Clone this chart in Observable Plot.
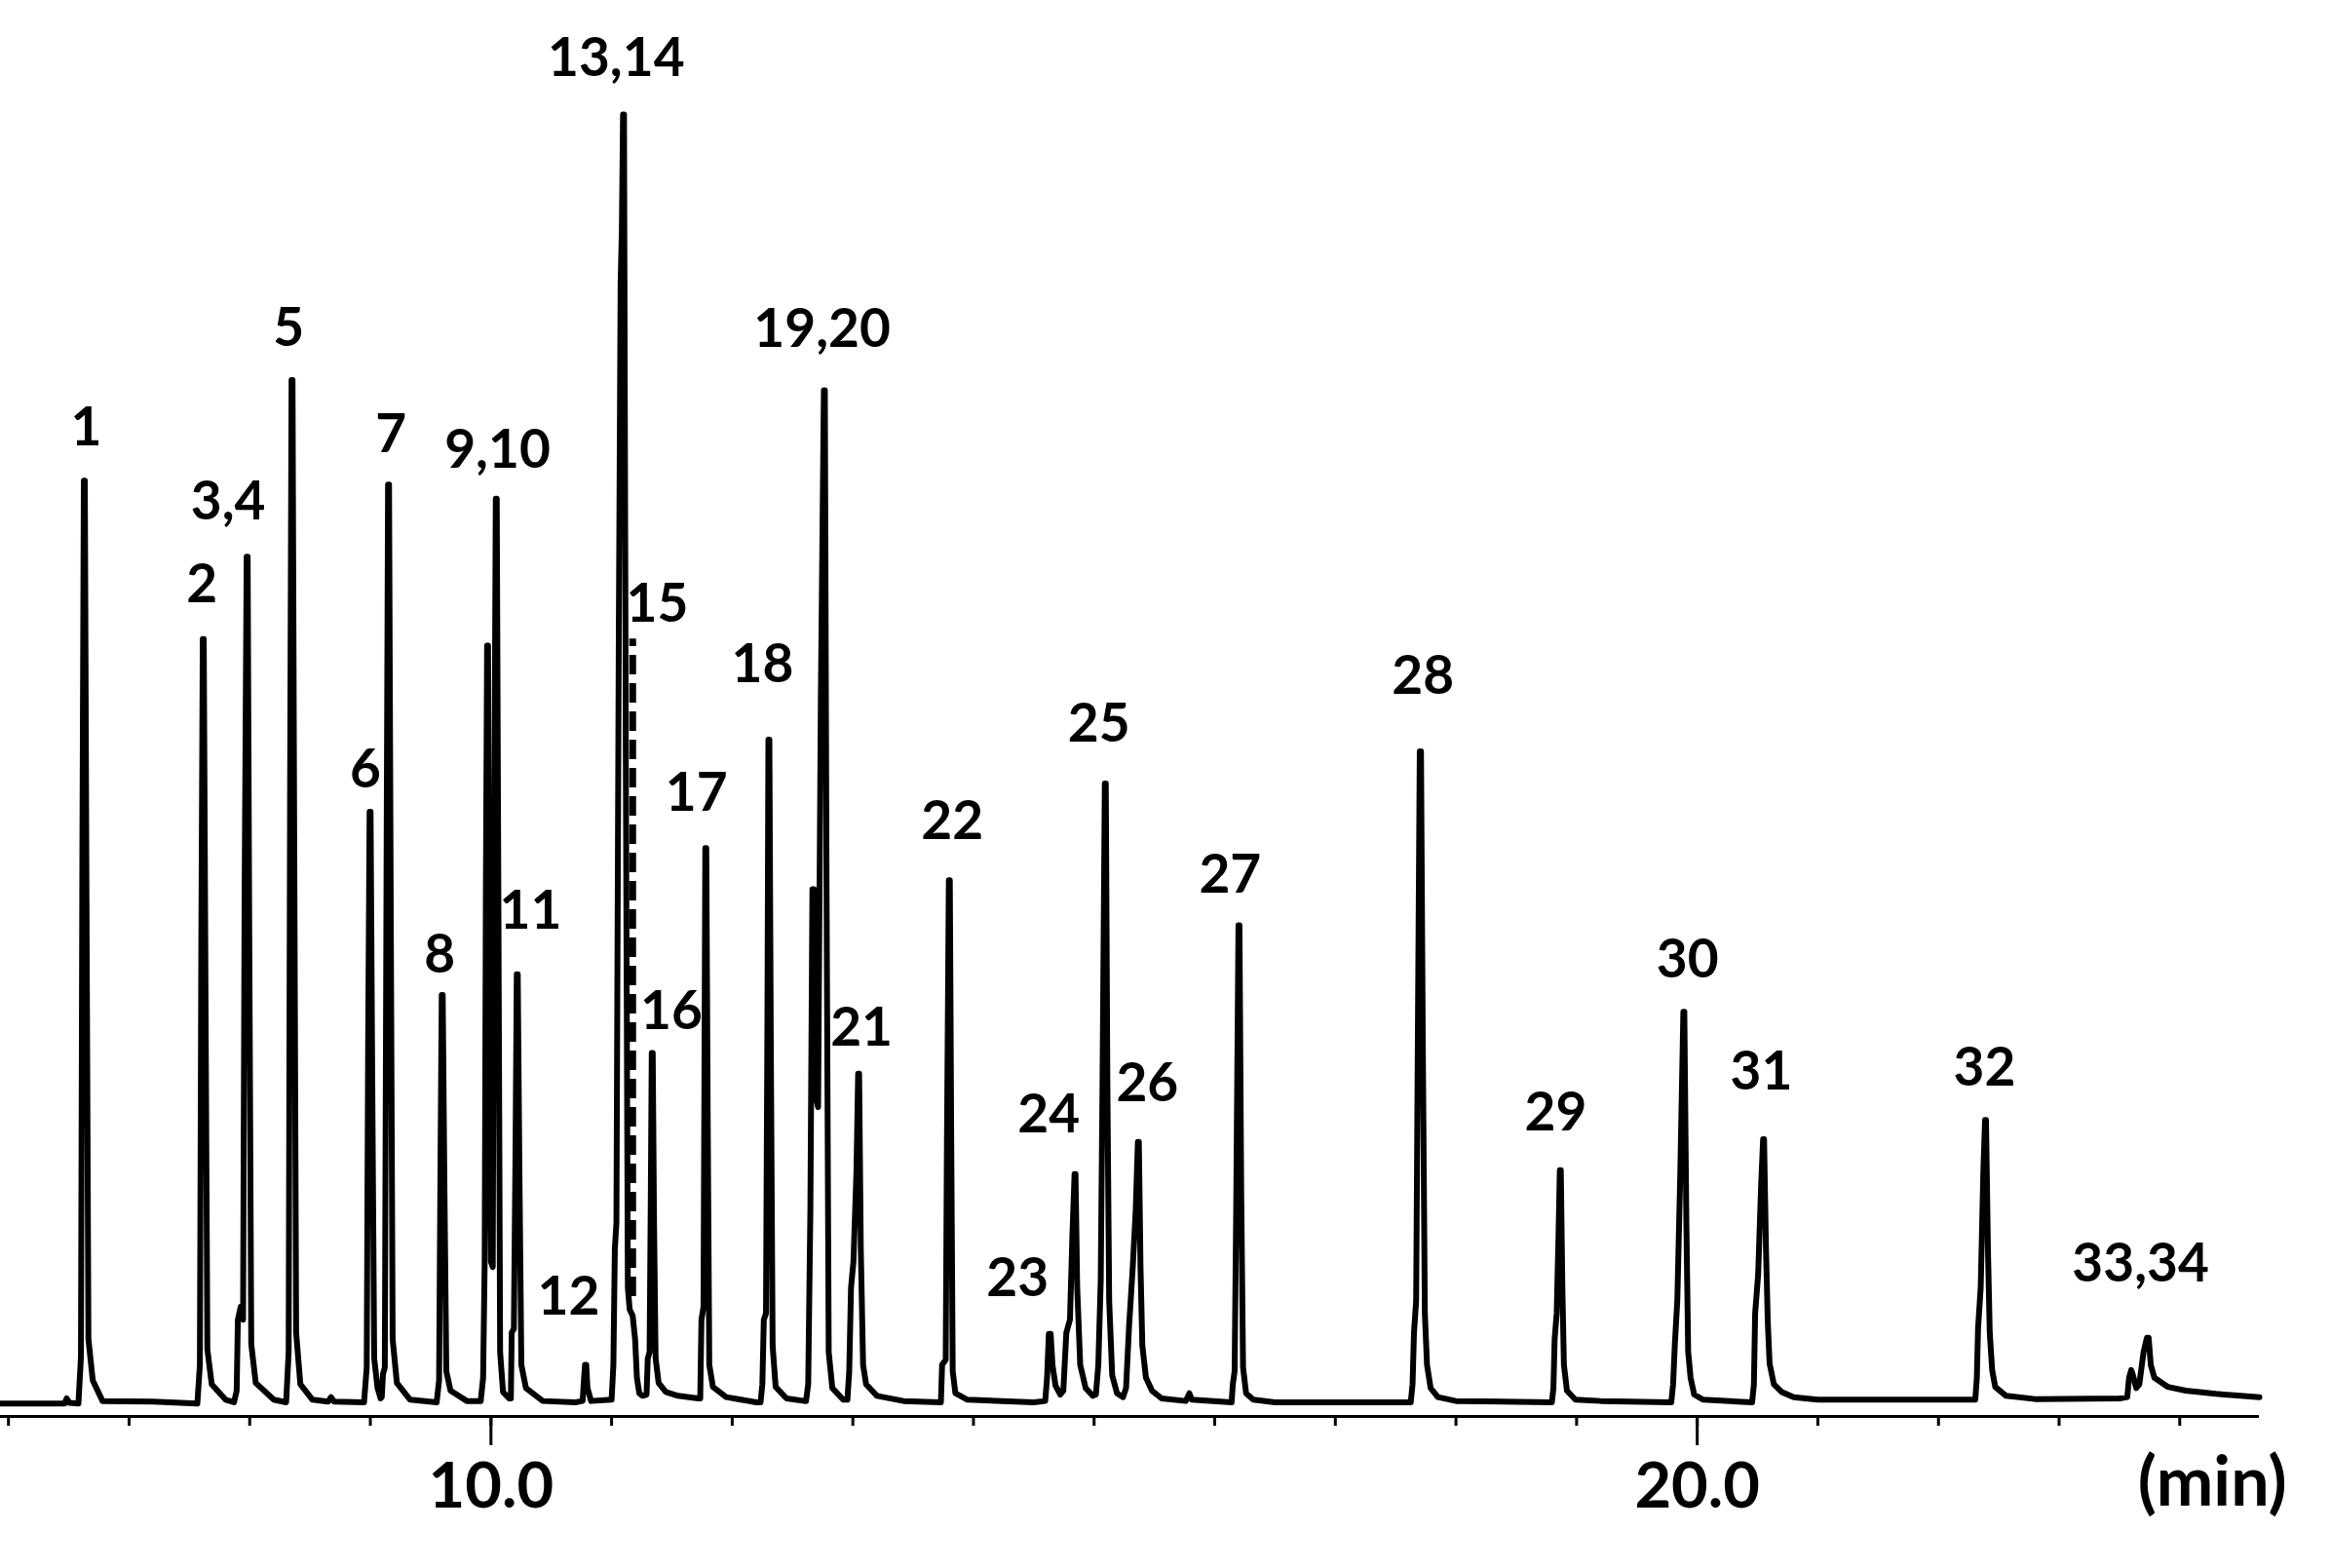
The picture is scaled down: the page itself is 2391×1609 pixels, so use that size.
<!DOCTYPE html>
<html><head><meta charset="utf-8">
<script src="https://cdn.jsdelivr.net/npm/d3@7"></script>
<script src="https://cdn.jsdelivr.net/npm/@observablehq/plot@0.6"></script>
<style>html,body{margin:0;padding:0;background:#fff;} svg{display:block;overflow:visible}</style>
</head><body><div id="chart"></div>
<script>
// Chromatogram trace vertices: [time (min), signal]
const trace = [
[5.934,0.0],[6.40,0.0],
[6.465,0.0],[6.483,0.4],[6.505,0.05],
[6.580,0.0],[6.601,3.6],[6.613,43],[6.625,71.6],[6.633,71.6],[6.647,39],[6.663,5.0],[6.699,1.8],[6.78,0.2],
[7.20,0.15],
[7.566,0.0],[7.587,3.0],[7.599,36],[7.611,59.3],[7.619,59.3],[7.633,33],[7.649,4.2],[7.685,1.5],[7.80,0.3],
[7.870,0.1],[7.892,1.0],[7.902,6.5],[7.925,7.5],[7.945,6.5],[7.958,40],[7.975,65.7],[7.983,65.7],[7.997,35],[8.013,4.6],[8.05,1.6],[8.20,0.3],
[8.302,0.1],[8.323,4.0],[8.335,48],[8.347,79.4],[8.355,79.4],[8.369,44],[8.385,5.5],[8.42,1.5],[8.52,0.3],
[8.65,0.15],[8.674,0.5],[8.70,0.15],
[8.948,0.1],[8.970,2.8],[8.982,28],[8.994,45.9],[9.002,45.9],[9.016,25],[9.032,3.5],[9.060,1.2],[9.085,0.4],
[9.095,0.5],[9.105,2.3],[9.120,2.8],[9.135,43],[9.147,71.3],[9.155,71.3],[9.169,39],[9.185,5.0],[9.22,1.6],[9.33,0.3],
[9.550,0.1],[9.570,1.8],[9.582,19],[9.592,31.7],[9.600,31.7],[9.614,17],[9.630,2.5],[9.665,1.0],[9.80,0.2],
[9.915,0.2],[9.935,2.0],[9.948,11],[9.958,40],[9.968,58.8],[9.976,58.8],[9.988,25],[10.000,11.0],[10.015,10.6],[10.025,40],[10.040,70.2],[10.048,70.2],[10.062,38],[10.076,4],[10.10,0.9],[10.15,0.4],
[10.165,0.4],[10.172,5.5],[10.190,5.8],[10.204,20],[10.214,33.3],[10.222,33.3],[10.236,18],[10.252,3],[10.29,1.2],[10.43,0.2],
[10.70,0.1],[10.760,0.2],[10.772,2.0],[10.780,3.0],[10.790,3.0],[10.800,1.2],[10.83,0.2],
[11.000,0.3],[11.015,3],[11.027,12],[11.040,14],[11.060,60],[11.075,87],[11.085,91],[11.095,100],[11.103,100],[11.118,50],[11.135,9],[11.150,7.3],[11.175,6.8],[11.195,5.0],[11.210,2.0],[11.230,0.8],[11.255,0.6],
[11.290,0.7],[11.300,3.5],[11.315,4.0],[11.325,16],[11.333,27.2],[11.341,27.2],[11.352,14],[11.365,3.5],[11.39,1.6],[11.45,0.9],[11.55,0.6],[11.72,0.4],
[11.735,0.4],[11.745,6.5],[11.762,7.5],[11.770,26],[11.777,43.1],[11.785,43.1],[11.797,22],[11.810,3],[11.84,1.3],[11.95,0.5],[12.20,0.1],
[12.235,0.1],[12.250,1.5],[12.262,6.5],[12.280,7.0],[12.292,30],[12.300,51.5],[12.308,51.5],[12.320,28],[12.335,4.5],[12.36,1.3],[12.45,0.4],[12.60,0.2],
[12.612,0.2],[12.630,1.5],[12.648,15],[12.665,39.9],[12.678,39.9],[12.700,23.5],[12.712,23.0],[12.735,55],[12.760,78.6],[12.768,78.6],[12.782,40],[12.800,4],[12.83,1.2],[12.92,0.3],
[12.955,0.3],[12.970,2.5],[12.985,9],[13.005,11],[13.030,18],[13.044,25.6],[13.052,25.6],[13.066,12],[13.085,3.0],[13.11,1.5],[13.20,0.6],[13.42,0.2],
[13.730,0.1],[13.740,3.0],[13.770,3.4],[13.780,20],[13.796,40.6],[13.804,40.6],[13.816,20],[13.828,2.5],[13.85,0.8],[13.95,0.3],
[14.50,0.1],
[14.595,0.2],[14.610,2.0],[14.625,5.4],[14.640,5.4],[14.655,3.0],[14.680,1.4],[14.720,0.7],
[14.745,1.0],[14.770,5.5],[14.800,6.5],[14.820,13],[14.838,17.8],[14.846,17.8],[14.860,9],[14.885,3],[14.930,1.2],[14.990,0.6],
[15.015,0.7],[15.035,3],[15.055,9.5],[15.070,25],[15.089,48.1],[15.097,48.1],[15.110,25],[15.125,8],[15.150,2.2],[15.190,0.8],[15.240,0.5],
[15.265,1.2],[15.290,6],[15.320,10.5],[15.345,15],[15.363,20.3],[15.371,20.3],[15.385,10.5],[15.400,4.5],[15.430,2],[15.480,1.0],[15.560,0.4],
[15.76,0.2],[15.790,0.8],[15.81,0.3],
[16.140,0.1],[16.150,1.5],[16.165,2.5],[16.178,15],[16.197,37.1],[16.205,37.1],[16.220,16],[16.235,2.8],[16.26,0.8],[16.32,0.3],[16.50,0.1],
[17.625,0.1],[17.640,1.5],[17.652,5.5],[17.670,8],[17.685,30],[17.700,50.6],[17.710,50.6],[17.725,28],[17.742,7],[17.760,3.0],[17.790,1.2],[17.85,0.5],[18.00,0.2],
[18.795,0.1],[18.808,1.2],[18.818,5.0],[18.835,7],[18.850,13],[18.861,18.1],[18.869,18.1],[18.882,9],[18.895,3],[18.92,1.0],[18.99,0.3],[19.2,0.2],
[19.785,0.1],[19.800,1.5],[19.815,4.7],[19.835,8],[19.860,18],[19.885,30.4],[19.893,30.4],[19.910,14],[19.925,4],[19.945,2.0],[19.975,0.7],[20.05,0.3],
[20.455,0.1],[20.470,1.5],[20.480,7.0],[20.505,10],[20.530,17],[20.546,20.5],[20.554,20.5],[20.570,12],[20.585,6.3],[20.600,3.1],[20.635,1.5],[20.70,0.9],[20.80,0.5],[21.00,0.3],
[22.305,0.3],[22.318,2.0],[22.328,5.8],[22.350,9],[22.372,18],[22.386,22.0],[22.394,22.0],[22.410,12],[22.425,5.5],[22.445,2.6],[22.47,1.3],[22.56,0.6],[22.80,0.35],
[23.50,0.4],[23.565,0.5],[23.580,2.0],[23.598,2.6],[23.612,2.2],[23.640,1.2],[23.665,1.5],[23.700,4.0],[23.728,5.1],[23.742,5.1],[23.760,3.0],[23.790,2.0],[23.90,1.3],[24.05,1.0],[24.30,0.75],[24.66,0.5]
];

// Peak labels
const peakLabels  = ["1","2","3,4","5","6","7","8","9,10","11","12","13,14","15","16","17","18","19,20","21","22","23","24","25","26","27","28","29","30","31","32","33,34"];
const labelTime   = [6.645,7.603,7.821,8.322,8.960,9.171,9.576,10.054,10.328,10.643,11.038,11.378,11.496,11.704,12.251,12.745,13.072,13.824,14.365,14.624,15.040,15.441,16.128,17.726,18.827,19.919,20.531,22.381,23.675];
const labelSignal = [75.7,63.5,69.9,83.4,49.1,75.1,34.8,73.9,38.2,8.2,104.3,62.0,30.4,47.3,57.3,83.3,29.1,45.1,9.7,22.4,52.7,24.8,41.0,56.4,22.5,34.4,25.7,26.0,10.8];

// Peak 15 marker (dashed)
const peak15Time = 11.175;
const peak15Top = 59.3;
const peak15Bottom = 8.3;

// Axis
const minorTicks = [6,7,8,9,10,11,12,13,14,15,16,17,18,19,20,21,22,23,24];
const majorTicks = [10, 20];
const majorTickLabels = ["10.0", "20.0"];
const unitLabel = "(min)";
const unitTime = 24.27;

const labels = peakLabels.map((text, i) => ({text, t: labelTime[i], s: labelSignal[i]}));

const chart = Plot.plot({
  width: 2391,
  height: 1609,
  marginLeft: 0,
  marginRight: 73,
  marginTop: 117,
  marginBottom: 156,
  x: {domain: [5.934, 24.66], label: null},
  y: {domain: [-1, 100], axis: null, label: null},
  style: {fontFamily: "Lato, sans-serif", fontWeight: "bold", color: "black", background: "white", overflow: "visible"},
  marks: [
    Plot.ruleY([-1], {stroke: "black", strokeWidth: 3}),
    Plot.axisX(minorTicks, {tickSize: 10, tickFormat: () => "", label: null, stroke: "black", strokeWidth: 3}),
    Plot.axisX(majorTicks, {tickSize: 30, tickPadding: 17, label: null, tickFormat: d => majorTickLabels[majorTicks.indexOf(d)], fontSize: 65, fontWeight: "bold", fontFamily: "Lato, sans-serif", stroke: "black", strokeWidth: 3}),
    Plot.line(trace, {x: d => d[0], y: d => d[1], stroke: "black", strokeWidth: 6}),
    Plot.ruleX([peak15Time], {y1: peak15Bottom, y2: peak15Top, stroke: "black", strokeWidth: 7, strokeDasharray: "20,9", strokeLinecap: "butt"}),
    Plot.text(labels, {x: "t", y: "s", text: "text", fontSize: 55, fontWeight: "bold", fontFamily: "Lato, sans-serif", lineAnchor: "middle", fill: "black"}),
    Plot.text([unitLabel], {x: unitTime, frameAnchor: "bottom", dy: 91, fontSize: 70, fontWeight: "bold", fontFamily: "Lato, sans-serif", fill: "black"})
  ]
});
document.getElementById("chart").appendChild(chart);
</script>
</body></html>
